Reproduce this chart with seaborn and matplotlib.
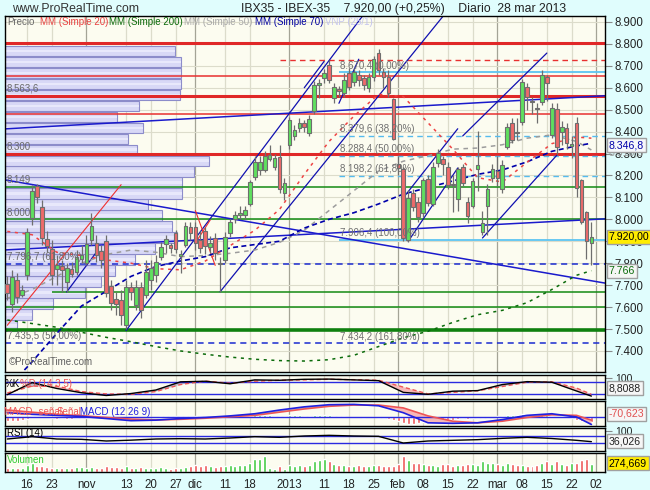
import matplotlib
matplotlib.use("Agg")
import matplotlib.pyplot as plt
import numpy as np
import pandas as pd
import seaborn as sns

sns.set_style("white")
plt.rcParams["font.family"] = ["Liberation Sans", "DejaVu Sans"]

# ---------------- data ----------------
holidays = ["2012-12-25", "2012-12-26", "2013-01-01", "2013-03-29", "2013-04-01"]
cal = pd.bdate_range("2012-10-10", "2013-04-02").drop(pd.to_datetime(holidays))

opens = [7705, 7614, 7724, 7655, 7746, 8006, 8152, 8056, 7910, 7865, 7774, 7787, 7714, 7774, 7760, 7819,
         7801, 7906, 7892, 7856, 7901, 7696, 7637, 7632, 7518, 7692, 7610, 7692, 7655, 7724, 7746, 7827,
         7888, 7882, 7936, 7833, 7883, 7967,
         7964, 7906, 7948, 7875, 7913, 7802, 7815, 7936, 8002, 8020, 8020, 8068, 8192, 8225, 8226, 8275,
         8240, 8286, 8119,
         8339, 8380, 8415, 8438, 8392, 8496, 8613, 8643, 8704, 8552, 8593, 8575, 8666, 8628, 8658, 8643,
         8597, 8651, 8760, 8673, 8651, 8547,
         8250, 8230, 7906, 8119, 8081, 8027, 8182, 8070, 8258, 8274, 8240, 8160, 8091, 8237, 8081, 8061,
         8231, 7941, 8061, 8187,
         8222, 8137, 8328, 8438, 8397, 8445, 8605, 8540, 8508, 8537, 8647, 8385, 8502, 8397, 8415, 8334,
         8438, 8179, 8035, 7894]
highs = [7742, 7769, 7755, 7701, 7961, 8157, 8161, 8088, 7947, 7906, 7838, 7815, 7801, 7806, 7860, 7883,
         7929, 8029, 7929, 7883, 7929, 7724, 7669, 7678, 7724, 7714, 7724, 7714, 7815, 7815, 7838, 7898,
         7929, 7894, 7951, 7860, 7989, 7989,
         7989, 7948, 7967, 7925, 7936, 7830, 7940, 8000, 8040, 8060, 8060, 8180, 8290, 8290, 8310, 8340,
         8300, 8339, 8190,
         8468, 8430, 8460, 8455, 8475, 8630, 8640, 8685, 8727, 8620, 8610, 8665, 8690, 8690, 8680, 8660,
         8665, 8745, 8775, 8690, 8680, 8555,
         8290, 8240, 8135, 8140, 8100, 8190, 8200, 8260, 8320, 8290, 8260, 8200, 8240, 8250, 8100, 8190,
         8403, 8040, 8160, 8250,
         8289, 8270, 8440, 8460, 8460, 8640, 8620, 8560, 8530, 8680, 8660, 8530, 8530, 8450, 8440, 8380,
         8465, 8185, 8040, 7990]
lows = [7632, 7578, 7619, 7646, 7724, 7974, 8075, 7883, 7851, 7701, 7701, 7669, 7669, 7737, 7746, 7801,
        7790, 7883, 7806, 7778, 7646, 7587, 7564, 7518, 7500, 7632, 7587, 7550, 7641, 7678, 7714, 7815,
        7845, 7845, 7845, 7754, 7875, 7906,
        7860, 7845, 7840, 7845, 7815, 7670, 7800, 7920, 7985, 8000, 8000, 8060, 8180, 8200, 8215, 8265,
        8225, 8120, 8090,
        8320, 8360, 8400, 8400, 8380, 8480, 8552, 8620, 8620, 8530, 8560, 8560, 8590, 8610, 8610, 8590,
        8580, 8630, 8660, 8600, 8560, 8360,
        8200, 7900, 7895, 8040, 7990, 8010, 8060, 8060, 8240, 8200, 8140, 8035, 8040, 8150, 7985, 8050,
        8130, 7930, 7930, 8170,
        8150, 8120, 8320, 8350, 8360, 8430, 8500, 8480, 8440, 8520, 8540, 8370, 8300, 8340, 8320, 8280,
        8100, 7980, 7820, 7790]
closes = [7664, 7737, 7646, 7678, 7942, 8129, 8102, 7915, 7879, 7746, 7792, 7769, 7778, 7751, 7828, 7838,
          7888, 7970, 7838, 7815, 7664, 7619, 7614, 7564, 7692, 7669, 7692, 7587, 7760, 7778, 7806, 7875,
          7909, 7871, 7863, 7841, 7970, 7936,
          7894, 7871, 7880, 7890, 7848, 7795, 7921, 7989, 8020, 8030, 8043, 8169, 8263, 8262, 8290, 8292,
          8281, 8137, 8167,
          8453, 8407, 8438, 8420, 8456, 8613, 8623, 8668, 8635, 8602, 8585, 8635, 8605, 8673, 8635, 8613,
          8650, 8730, 8681, 8648, 8575, 8365,
          8232, 7913, 8096, 8058, 8012, 8179, 8076, 8240, 8304, 8251, 8157, 8157, 8228, 8164, 8015, 8176,
          8246, 7982, 8137, 8231,
          8187, 8246, 8423, 8362, 8393, 8628, 8559, 8535, 8504, 8658, 8620, 8509, 8331, 8420, 8350, 8344,
          8141, 7989, 7903, 7920]
volume = [150, 140, 150, 130, 260, 320, 200, 210, 170, 160, 150, 140, 160, 130, 170, 180,
          160, 170, 140, 150, 220, 190, 170, 150, 200, 160, 140, 180, 160, 150, 130, 170, 140, 120, 150, 140, 170, 200,
          240, 230, 250, 210, 190, 200, 230, 260, 220, 240, 250, 330, 450, 480, 585, 150, 100, 210, 120,
          250, 230, 260, 200, 240, 380, 420, 470, 400, 300, 240, 250, 230, 220, 260, 230, 220, 240, 260, 220, 210, 230,
          300, 590, 420, 330, 310, 300, 250, 260, 230, 270, 280, 200, 240, 260, 300, 280, 240, 400, 310, 330,
          300, 250, 320, 290, 240, 260, 210, 220, 260, 330, 410, 300, 380, 290, 250, 320, 330, 420, 450, 274.669]
macd_hist = [-40, -42, -38, -30, -15, 5, 12, 8, -5, -12, -15, -14, -16, -15, -12, -10,
             -8, -5, -8, -10, -15, -18, -18, -16, -14, -10, -10, -8, -5, -2, 3, 6, 8, 10, 9, 8, 6, 9,
             10, 10, 9, 8, 7, 6, 8, 10, 12, 13, 12, 12, 14, 16, 15, 14, 13, 12, 8,
             14, 15, 14, 13, 12, 16, 17, 18, 14, 12, 10, 6, -3, -2, -5, -6, -4, -2, -8, -12, -18, -30,
             -35, -60, -62, -64, -60, -50, -48, -38, -28, -25, -28, -25, -15, -14, -18, -12, -6, -14, -8, 4,
             8, 12, 20, 18, 16, 25, 25, 22, 18, 22, 18, 10, 2, -2, -5, -8, -25, -40, -42, -45]

# indicator lines, read every 5 sessions (plus the last session)
ma20 = [7945, 7930, 7850, 7835, 7815, 7800, 7775, 7770, 7810, 7880, 7950, 8045, 8205, 8355, 8470, 8570,
        8560, 8440, 8320, 8190, 8170, 8260, 8345, 8375, 8370]
ma50 = [7640, 7680, 7740, 7800, 7840, 7860, 7850, 7830, 7835, 7845, 7860, 7895, 7950, 8040, 8130, 8220,
        8265, 8290, 8320, 8325, 8340, 8370, 8385, 8355, 8316.3]
ma70 = [7230, 7350, 7480, 7605, 7672, 7740, 7785, 7810, 7830, 7870, 7885, 7900, 7960, 8000, 8030, 8070,
        8115, 8145, 8175, 8205, 8225, 8262, 8310, 8335, 8346.8]
ma200 = [7541, 7525, 7508, 7485, 7462, 7442, 7420, 7400, 7385, 7372, 7362, 7356, 7354, 7360, 7380, 7420,
         7460, 7490, 7530, 7565, 7585, 7620, 7680, 7745, 7766]
stoch_k = [16, 78, 48, 26, 12, 22, 40, 82, 85, 72, 92, 90, 95, 96, 92, 88, 28, 18, 34, 37, 68, 83, 80, 35, 8.8088]
stoch_d = [25, 60, 60, 32, 20, 18, 32, 68, 86, 75, 85, 90, 92, 95, 93, 90, 55, 20, 28, 36, 58, 80, 82, 50, 18]
macd = [40, 25, 15, 5, -15, -35, -30, -15, -5, 10, 30, 65, 95, 115, 118, 105, 40, -55, -60, -55, -25, 15, 30, 0,
        -70.623]
macd_signal = [65, 45, 25, 12, -5, -20, -28, -22, -12, 2, 15, 45, 75, 100, 112, 112, 85, 10, -40, -55, -40, -5,
               20, 15, -30]
rsi = [52, 66, 52, 50, 40, 45, 52, 54, 52, 58, 66, 62, 70, 74, 70, 68, 28, 40, 44, 48, 56, 62, 55, 44, 36.026]

tick_dates = ["2012-10-16", "2012-10-23", "2012-11-01", "2012-11-13", "2012-11-20", "2012-11-27", "2012-12-03",
              "2012-12-11", "2012-12-18", "2013-01-02", "2013-01-11", "2013-01-18", "2013-01-25", "2013-02-01",
              "2013-02-08", "2013-02-15", "2013-02-22", "2013-03-01", "2013-03-08", "2013-03-15", "2013-03-22",
              "2013-04-02"]
tick_labels = ["16", "23", "nov", "13", "20", "27", "dic", "11", "18", "2013", "11", "18", "25", "feb",
               "08", "15", "22", "mar", "08", "15", "22", "02"]
month_starts = ["2012-11-01", "2012-12-03", "2013-01-02", "2013-02-01", "2013-03-01", "2013-04-02"]

# volume-at-price profile (VNP 25/1): bin floor and relative volume
prof_low = [7492, 7542, 7592, 7642, 7692, 7742, 7792, 7842, 7892, 7942, 7992, 8042, 8092, 8142, 8192, 8242,
            8292, 8342, 8392, 8442, 8492, 8542, 8592, 8642, 8692, 8742]
prof_vol = [12, 27, 48, 80, 96, 110, 130, 150, 172, 167, 157, 143, 177, 177, 189, 204,
            132, 123, 138, 112, 134, 175, 176, 176, 176, 170]

# horizontal levels drawn on the chart
red_thick = [8805, 8563.6, 8300]
red_thin = [8652, 8479]
red_dashed = (8725, "2012-12-28")
green_lines = [8149, 8000, 7600]
green_partial = (7667, "2012-10-23")
green_thick = [7495]
navy_dashed = [7796.7, 7434.2]
fib_levels = [8670.4, 8379.6, 8288.4, 8198.2, 7906.4, 7434.2]
fib_pcts = [0.0, 38.2, 50.0, 61.8, 100.0, 161.8]
fib_start = "2013-01-16"
left_levels = [8563.6, 8300, 8149, 8000, 7796.7, 7435.5]
left_texts = ["8.563,6", "8.300", "8.149", "8.000", "7.796,7 (61,80%)", "7.435,5 (50,00%)"]

# drawn trend lines: (date, price, date, price)
navy_rays = [("2012-10-10", 8413, "2013-03-28", 8560),
             ("2012-10-10", 8178, "2013-03-28", 7720),
             ("2012-10-10", 7861, "2013-03-28", 7999)]
navy_segments = [("2012-11-13", 7493, "2013-01-23", 8934),
                 ("2012-12-10", 7670, "2013-02-15", 8953),
                 ("2013-01-07", 8600, "2013-01-11", 8720),
                 ("2013-01-16", 8529, "2013-01-22", 8730),
                 ("2013-02-05", 7900, "2013-02-19", 8234),
                 ("2013-02-04", 8098, "2013-02-19", 8413),
                 ("2013-02-20", 8380, "2013-03-15", 8758),
                 ("2013-02-26", 7915, "2013-03-19", 8292),
                 ("2012-10-26", 7669, "2012-11-05", 7850)]
red_segments = [("2012-10-10", 7517, "2012-11-12", 8158),
                ("2012-12-03", 8040, "2012-12-07", 7790),
                ("2012-12-03", 7892, "2012-12-06", 7997)]

price_ticks = [7400, 7500, 7600, 7700, 7800, 7900, 8000, 8100, 8200, 8300, 8400, 8500, 8600, 8700, 8800, 8900]

# ---------------- helpers ----------------
W, H = 650, 490
BG_OUT = "#e0fdfd"
BG_IN = "#fcfcf0"
GRID = "#dcdccb"
GRID_DARK = "#a4a496"
BOXFS = 7.6
LBLFS = 7.0


def ix(d):
    return cal.get_loc(pd.Timestamp(d))


def es(v, dec):
    s = f"{v:,.{dec}f}"
    return s.replace(",", "X").replace(".", ",").replace("X", ".")


def rect(x0, y0, x1, y1):
    return [x0 / W, 1 - y1 / H, (x1 - x0) / W, (y1 - y0) / H]


def ptext(px, py, s, **kw):
    fig.text(px / W, 1 - py / H, s, va="center", ha="left", **kw)


def vbox(a, y, s, fc, color):
    a.text(1.006, y, s, transform=a.get_yaxis_transform(), fontsize=BOXFS, color=color, va="center",
           clip_on=False, zorder=9, bbox=dict(boxstyle="square,pad=0.18", fc=fc, ec="#a0a0a0", lw=1))


x = np.arange(len(closes))
s_x = list(range(0, len(closes), 5)) + [len(closes) - 1]
up = np.array(closes) >= np.array(opens)
XL = (-0.46, 120.75)

fig = plt.figure(figsize=(W / 100, H / 100), dpi=100, facecolor=BG_OUT)
ax = fig.add_axes(rect(5, 16, 605, 372))
ax_st = fig.add_axes(rect(5, 375, 605, 399))
ax_md = fig.add_axes(rect(5, 401, 605, 426))
ax_rs = fig.add_axes(rect(5, 428, 605, 451))
ax_vo = fig.add_axes(rect(5, 453, 605, 472))

for a in [ax, ax_st, ax_md, ax_rs, ax_vo]:
    a.set_facecolor(BG_IN)
    a.set_xlim(*XL)
    for sp in a.spines.values():
        sp.set_color("black")
        sp.set_linewidth(1.0)
    a.tick_params(axis="x", bottom=False, labelbottom=False)
    a.yaxis.tick_right()
    a.tick_params(axis="y", length=5, color="#8a8a8a", labelsize=8.3, labelcolor="#222222", pad=2)
    for d in tick_dates:
        a.axvline(ix(d), color=GRID_DARK if d in month_starts else GRID, lw=0.9, zorder=0.5)

# ---------------- main price panel ----------------
ax.set_ylim(7304, 8927)
for v in price_ticks:
    ax.axhline(v, color=GRID, lw=0.8, zorder=0.5)
ax.set_yticks(price_ticks)
ax.set_yticklabels([es(v, 0) for v in price_ticks])

# volume profile from the left edge
span = XL[1] - XL[0]
prof_w = np.array(prof_vol) / 600 * span
ax.barh(np.array(prof_low) + 25, prof_w, height=48, left=XL[0], color="#d8d8f6", edgecolor="#8c8cca",
        linewidth=0.8, zorder=1)
ax.barh(np.array(prof_low) + 25, prof_w, height=12, left=XL[0], color="#e8e8fb", linewidth=0, zorder=1.1)

for v in red_thick:
    ax.axhline(v, color="#e02828", lw=2.2, zorder=2)
for v in red_thin:
    ax.axhline(v, color="#e83030", lw=1.1, zorder=2)
ax.hlines(red_dashed[0], ix(red_dashed[1]), XL[1], color="#e83030", lw=1, linestyles=(0, (4, 3)), zorder=2)
for v in green_lines:
    ax.axhline(v, color="#138a13", lw=1.1, zorder=2)
ax.hlines(green_partial[0], ix(green_partial[1]), XL[1], color="#138a13", lw=1.1, zorder=2)
for v in green_thick:
    ax.axhline(v, color="#0f800f", lw=2.6, zorder=2)
for v in navy_dashed:
    ax.axhline(v, color="#1a2ad0", lw=1.1, ls=(0, (4, 3)), zorder=2)
for lv, pc in zip(fib_levels, fib_pcts):
    if pc in (0.0, 100.0):
        ax.hlines(lv, ix(fib_start), XL[1], color="#5cc4f2", lw=1.3, zorder=2)
    elif pc != 161.8:
        ax.hlines(lv, ix(fib_start), XL[1], color="#55bbee", lw=1, linestyles=(0, (4, 3)), zorder=2)
    ax.text(ix(fib_start) + 0.3, lv + 8, f"{es(lv, 1)} ({es(pc, 2)}%)", fontsize=7, color="#707070",
            va="bottom", ha="left", zorder=6)
for lv, t in zip(left_levels, left_texts):
    ax.text(0.003, lv + 8, t, transform=ax.get_yaxis_transform(), fontsize=7, color="#6a6a6a",
            va="bottom", ha="left", zorder=6)

for d0, p0, d1, p1 in navy_rays:
    ax.axline((ix(d0), p0), (ix(d1), p1), color="#1a1acc", lw=1.1, zorder=2.2)
for d0, p0, d1, p1 in navy_segments:
    sns.lineplot(x=[ix(d0), ix(d1)], y=[p0, p1], ax=ax, color="#1010b0", lw=0.9, zorder=2.2)
for d0, p0, d1, p1 in red_segments:
    sns.lineplot(x=[ix(d0), ix(d1)], y=[p0, p1], ax=ax, color="#ee3030", lw=0.8, zorder=2.2)

# moving averages
sns.lineplot(x=s_x, y=ma200, ax=ax, color="#0b6b0b", lw=1.1, linestyle=(0, (2, 3)), zorder=3)
sns.lineplot(x=s_x, y=ma50, ax=ax, color="#9c9c9c", lw=1.1, linestyle=(0, (3, 3)), zorder=3)
sns.lineplot(x=s_x, y=ma70, ax=ax, color="#0000aa", lw=1.2, linestyle=(0, (3, 2)), zorder=3)
sns.lineplot(x=s_x, y=ma20, ax=ax, color="#ee4444", lw=1.1, linestyle=(0, (2, 3)), zorder=3)

# candles
body_lo = np.minimum(opens, closes)
body_h = np.maximum(np.abs(np.array(closes) - np.array(opens)), 5)
ax.vlines(x, lows, highs, color="#6e6e6e", lw=0.9, zorder=4)
ax.bar(x, body_h, bottom=body_lo, width=0.74, color=np.where(up, "#5fe05f", "#ee6a6a"),
       edgecolor="#6e6e6e", linewidth=0.8, zorder=5)

# right side value boxes
ax.text(1.006, ma50[-1] - 10, es(ma50[-1], 1), transform=ax.get_yaxis_transform(), fontsize=BOXFS,
        color="#9a9a9a", va="center", clip_on=False, zorder=8)
vbox(ax, ma70[-1] - 8, es(ma70[-1], 1), "#f6f8fa", "#0000aa")
vbox(ax, closes[-1], es(closes[-1], 2), "#ffec00", "black")
vbox(ax, ma200[-1], es(ma200[-1], 0), "#f4f6f4", "#0b6b0b")

ax.text(0.006, 0.015, "\u00a9ProRealTime.com", transform=ax.transAxes, fontsize=7, color="#606060",
        va="bottom", zorder=6)

# ---------------- stochastic ----------------
ax_st.set_ylim(-6, 117)
k, dd = np.array(stoch_k, float), np.array(stoch_d, float)
ax_st.fill_between(s_x, k, dd, where=k >= dd, interpolate=True, color="#b9b9c4", lw=0, zorder=1)
ax_st.fill_between(s_x, k, dd, where=k < dd, interpolate=True, color="#f6b8b8", lw=0, zorder=1)
for v in (80, 20):
    ax_st.axhline(v, color="#2a2ae0", lw=1, zorder=2)
sns.lineplot(x=s_x, y=stoch_d, ax=ax_st, color="#ee5555", lw=1, linestyle=(0, (3, 2)), zorder=3)
sns.lineplot(x=s_x, y=stoch_k, ax=ax_st, color="black", lw=1, zorder=3)
ax_st.set_yticks([100])
ax_st.set_yticklabels(["100"], fontsize=7.5)
vbox(ax_st, 50, es(stoch_k[-1], 4), "#f6f6f6", "#222222")

# ---------------- MACD ----------------
ax_md.set_ylim(-85, 150)
m, sg = np.array(macd, float), np.array(macd_signal, float)
ax_md.bar(x, macd_hist, width=0.6, color=np.where(np.array(macd_hist) >= 0, "#44cc44", "#ee5858"), zorder=1)
ax_md.fill_between(s_x, m, sg, where=m >= sg, interpolate=True, color="#b9b9c4", lw=0, zorder=1.5)
ax_md.fill_between(s_x, m, sg, where=m < sg, interpolate=True, color="#f6b8b8", lw=0, zorder=1.5)
ax_md.axhline(0, color="#2a2ae0", lw=1, zorder=2)
sns.lineplot(x=s_x, y=macd_signal, ax=ax_md, color="#ee5555", lw=1.2, zorder=3)
sns.lineplot(x=s_x, y=macd, ax=ax_md, color="#2020e0", lw=1.2, zorder=3)
ax_md.set_yticks([])
vbox(ax_md, 30, es(macd[-1], 3), "#f6f6f6", "#e05050")

# ---------------- RSI ----------------
ax_rs.set_ylim(-20, 118)
for v in (70, 30):
    ax_rs.axhline(v, color="#2a2ae0", lw=1, zorder=2)
sns.lineplot(x=s_x, y=rsi, ax=ax_rs, color="black", lw=1, zorder=3)
ax_rs.set_yticks([100])
ax_rs.set_yticklabels(["100"], fontsize=7.5)
vbox(ax_rs, 40, es(rsi[-1], 3), "#f6f6f6", "#222222")

# ---------------- volume ----------------
ax_vo.set_ylim(0, 680)
ax_vo.bar(x, volume, width=0.6, color=np.where(up, "#44cc44", "#ee5858"), zorder=2)
ax_vo.set_yticks([])
vbox(ax_vo, 320, es(volume[-1], 3), "#ffec00", "black")
ax_vo.set_xticks([ix(d) for d in tick_dates])
ax_vo.set_xticklabels(tick_labels)
ax_vo.tick_params(axis="x", bottom=False, labelbottom=True, labelsize=8.3, labelcolor="#222222", pad=1.5)

# ---------------- texts ----------------
ptext(12, 9, "www.ProRealTime.com", fontsize=8.8, color="#333333")
ptext(241, 9, "IBX35 - IBEX-35    7.920,00 (+0,25%)    Diario  28 mar 2013", fontsize=8.8, color="#222222")
legend_items = [(7.5, "Precio", "#6a6a6a"), (39.5, "MM (Simple 20)", "#e84040"),
                (109, "MM (Simple 200)", "#0a6a0a"), (184, "MM (Simple 50)", "#a8a8a8"),
                (255, "MM (Simple 70)", "#0000a0"), (325, "VNP (25/1)", "#c4c4ee")]
for px, t, c in legend_items:
    ptext(px, 22, t, fontsize=LBLFS, color=c)
ptext(5, 384, "%K", fontsize=LBLFS, color="black")
ptext(20, 384, "%D (14 3 5)", fontsize=LBLFS, color="#ee5555")
ptext(4, 412, "MACD- se\u00f1al", fontsize=LBLFS, color="#ee5555")
ptext(57, 412, "Se\u00f1al", fontsize=LBLFS, color="#ee5555")
ptext(80, 412, "MACD (12 26 9)", fontsize=LBLFS, color="#2020e0")
ptext(7, 433, "RSI (14)", fontsize=LBLFS, color="black")
ptext(7, 460, "Volumen", fontsize=LBLFS, color="#33cc33")

fig.savefig("out.png", dpi=100, facecolor=BG_OUT)
